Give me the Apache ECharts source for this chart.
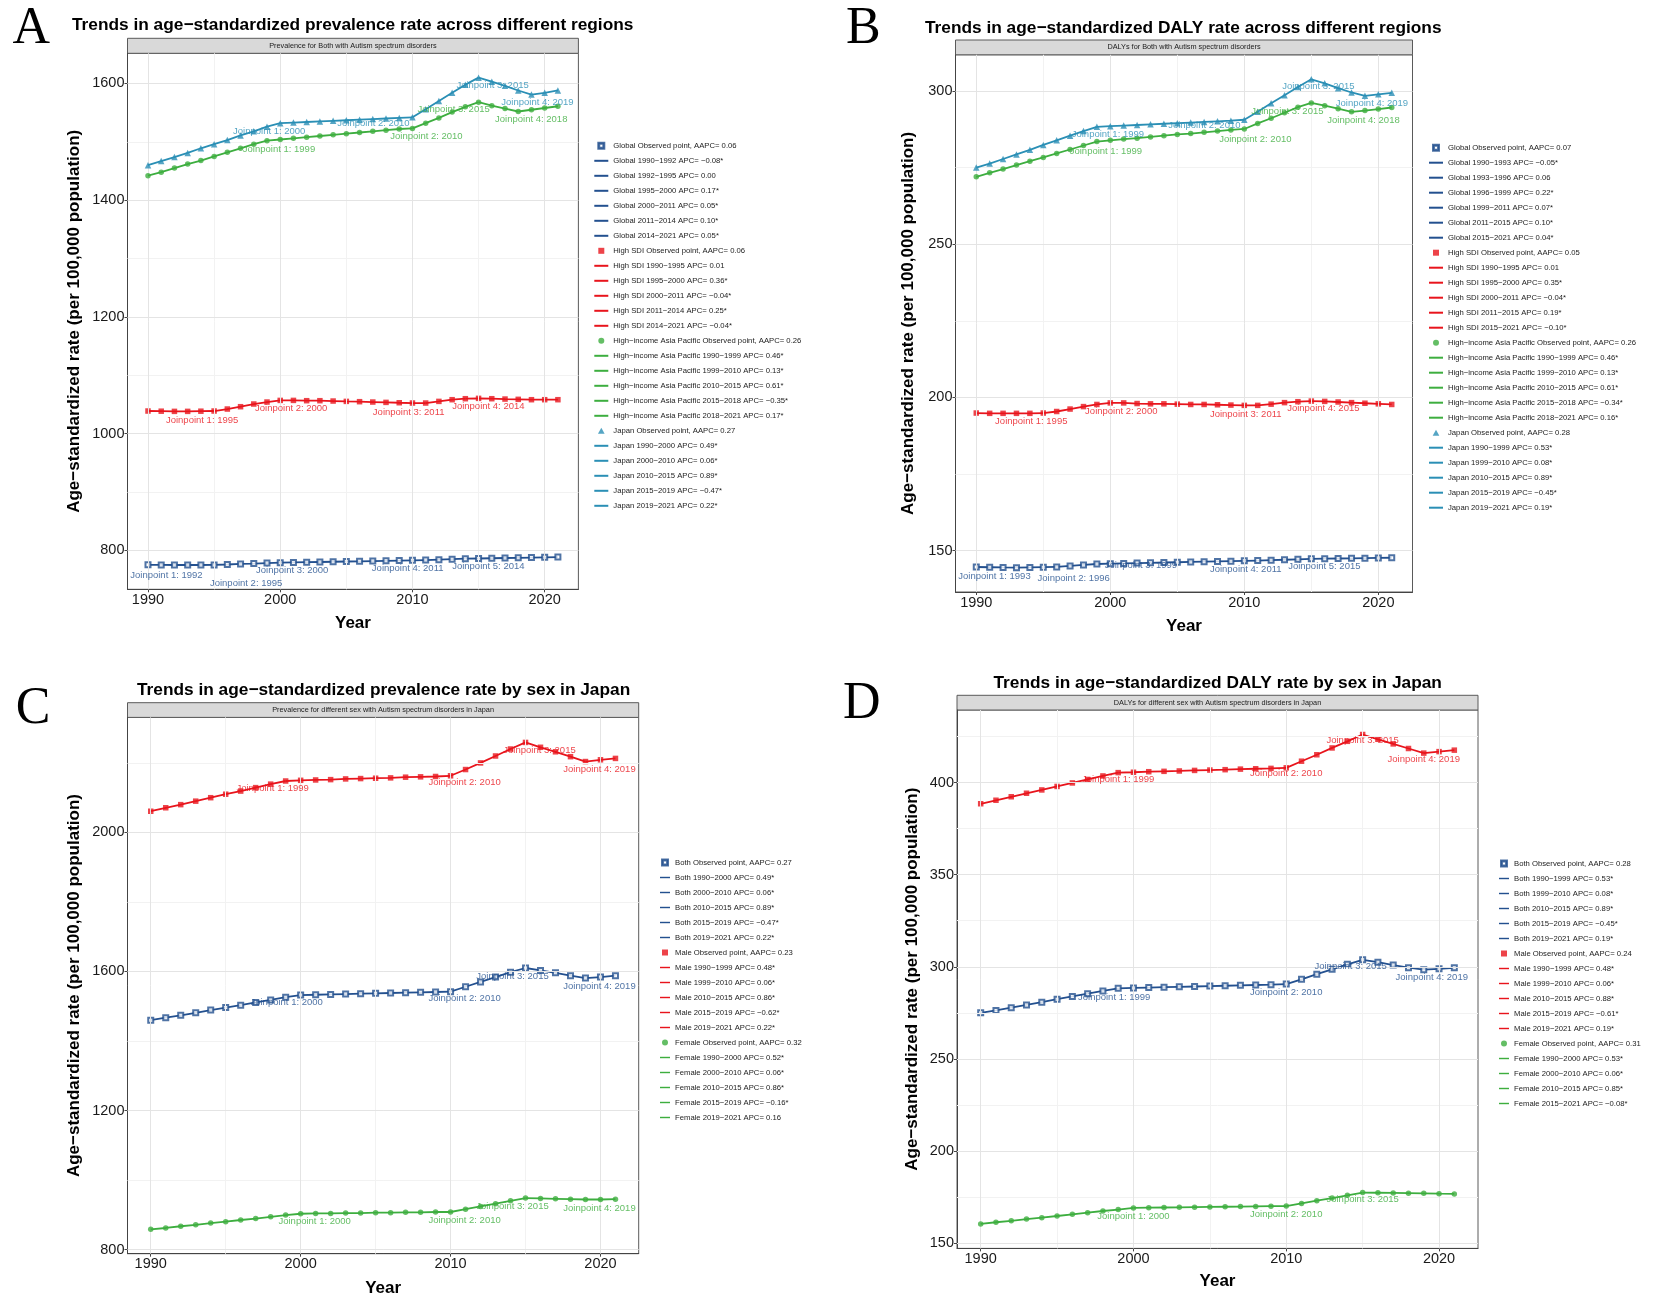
<!DOCTYPE html>
<html><head><meta charset="utf-8">
<script src="https://cdn.jsdelivr.net/npm/echarts@6/dist/echarts.min.js"></script>
<style>html,body{margin:0;padding:0;background:#fff}#c{width:1654px;height:1308px}</style>
</head><body><div id="c"></div>
<script>
// ---------------- DATA ----------------
const years = [1990,1991,1992,1993,1994,1995,1996,1997,1998,1999,2000,2001,2002,2003,2004,2005,2006,2007,2008,2009,2010,2011,2012,2013,2014,2015,2016,2017,2018,2019,2020,2021];
const xTicks = [1990,2000,2010,2020];
const xMinorTicks = [1995,2005,2015];

// Panel A: prevalence by region
const prevGlobal  = [775.5,775.3,775.1,775.1,775.1,775.2,776.0,776.9,777.6,778.4,779.1,779.5,779.9,780.3,780.7,781.1,781.5,781.9,782.3,782.7,783.1,783.5,784.3,785.1,785.9,786.3,786.7,787.1,787.5,787.9,788.3,788.7];
const prevHighSDI = [1038.9,1038.6,1038.3,1038.3,1038.6,1038.9,1042.3,1046.3,1050.9,1054.3,1057.1,1057.1,1056.6,1056.6,1056.0,1055.4,1054.9,1054.3,1053.7,1053.1,1052.6,1052.6,1055.4,1058.3,1060.0,1060.6,1060.0,1059.4,1058.9,1058.3,1058.3,1058.3];
const prevHIAP    = [1442,1448,1455,1462,1468,1475,1482,1489,1496,1502,1504,1506,1508,1510,1512,1514,1516,1518,1520,1522,1523,1532,1541,1551,1560,1568,1562,1557,1552,1555,1558,1561];
const prevJapan   = [1460,1467,1474,1481,1489,1496,1503,1511,1518,1526,1532,1533,1534,1535,1536,1537,1538,1539,1540,1541,1542,1556,1570,1584,1598,1610,1603,1596,1588,1581,1584,1588];
const yTicksA = [800,1000,1200,1400,1600];
const yMinorA = [900,1100,1300,1500];

// Panel B: DALY by region
const dalyGlobal  = [144.65,144.58,144.51,144.45,144.52,144.60,144.68,145.00,145.32,145.64,145.74,145.84,145.94,146.03,146.12,146.21,146.30,146.39,146.48,146.57,146.66,146.75,146.89,147.03,147.17,147.31,147.37,147.43,147.49,147.55,147.61,147.67];
const dalyHighSDI = [194.9,194.8,194.8,194.8,194.8,194.9,195.4,196.2,197.0,197.7,198.2,198.2,198.0,197.9,197.9,197.8,197.7,197.7,197.6,197.5,197.4,197.4,197.8,198.3,198.6,198.8,198.7,198.5,198.3,198.1,197.9,197.7];
const dalyHIAP    = [272.0,273.3,274.5,275.8,277.1,278.3,279.6,280.9,282.2,283.5,283.9,284.3,284.6,285.0,285.4,285.8,286.1,286.5,286.9,287.3,287.6,289.4,291.1,292.9,294.7,296.1,295.2,294.2,293.2,293.6,294.1,294.6];
const dalyJapan   = [275.0,276.3,277.8,279.3,280.8,282.4,283.9,285.4,286.9,288.3,288.5,288.7,288.9,289.1,289.3,289.5,289.7,289.9,290.1,290.3,290.6,293.2,296.0,298.6,301.3,303.8,302.5,300.9,299.5,298.4,298.9,299.4];
const yTicksB = [150,200,250,300];
const yMinorB = [175,225,275];

// Panel C: prevalence by sex in Japan
const sexPrevBoth   = [1460,1467,1474,1481,1489,1496,1503,1511,1518,1526,1532,1533,1534,1535,1536,1537,1538,1539,1540,1541,1542,1556,1570,1584,1598,1610,1603,1596,1588,1581,1584,1588];
const sexPrevMale   = [2061,2071,2080,2090,2100,2110,2119,2129,2139,2148,2150,2151,2152,2154,2155,2156,2157,2159,2160,2161,2163,2181,2200,2220,2240,2259,2245,2232,2218,2204,2209,2213];
const sexPrevFemale = [858,862,867,871,876,880,885,889,894,899,903,904,904,905,905,906,906,907,907,908,908,916,924,932,940,948,947,946,945,944,944,945];
const yTicksC = [800,1200,1600,2000];
const yMinorC = [1000,1400,1800,2200];

// Panel D: DALY by sex in Japan
const sexDalyBoth   = [275.0,276.3,277.8,279.3,280.8,282.4,283.9,285.4,286.9,288.3,288.5,288.7,288.9,289.1,289.3,289.5,289.7,289.9,290.1,290.3,290.6,293.2,296.0,298.6,301.3,303.8,302.5,300.9,299.5,298.4,298.9,299.4];
const sexDalyMale   = [388.5,390.4,392.3,394.2,396.0,397.9,399.8,401.7,403.6,405.4,405.6,405.9,406.1,406.3,406.6,406.8,407.0,407.3,407.5,407.7,408.0,411.6,415.1,418.8,422.4,426.1,423.5,421.0,418.5,416.0,416.8,417.6];
const sexDalyFemale = [160.4,161.3,162.1,163.0,163.8,164.7,165.6,166.5,167.4,168.2,169.1,169.2,169.3,169.4,169.5,169.6,169.7,169.8,169.9,170.0,170.1,171.5,173.0,174.4,175.9,177.4,177.3,177.2,177.1,177.0,176.8,176.7];
const yTicksD = [150,200,250,300,350,400];
const yMinorD = [175,225,275,325,375,425];

// Joinpoint breaks, APC and AAPC texts
const jpA_Global = [1990,1992,1995,2000,2011,2014,2021];  const apcA_Global = ['−0.08*','0.00','0.17*','0.05*','0.10*','0.05*'];
const jpA_SDI    = [1990,1995,2000,2011,2014,2021];       const apcA_SDI    = ['0.01','0.36*','−0.04*','0.25*','−0.04*'];
const jpA_HIAP   = [1990,1999,2010,2015,2018,2021];       const apcA_HIAP   = ['0.46*','0.13*','0.61*','−0.35*','0.17*'];
const jpA_Japan  = [1990,2000,2010,2015,2019,2021];       const apcA_Japan  = ['0.49*','0.06*','0.89*','−0.47*','0.22*'];
const aapcA = ['0.06','0.06','0.26','0.27'];

const jpB_Global = [1990,1993,1996,1999,2011,2015,2021];  const apcB_Global = ['−0.05*','0.06','0.22*','0.07*','0.10*','0.04*'];
const jpB_SDI    = [1990,1995,2000,2011,2015,2021];       const apcB_SDI    = ['0.01','0.35*','−0.04*','0.19*','−0.10*'];
const jpB_HIAP   = [1990,1999,2010,2015,2018,2021];       const apcB_HIAP   = ['0.46*','0.13*','0.61*','−0.34*','0.16*'];
const jpB_Japan  = [1990,1999,2010,2015,2019,2021];       const apcB_Japan  = ['0.53*','0.08*','0.89*','−0.45*','0.19*'];
const aapcB = ['0.07','0.05','0.26','0.28'];

const jpC_Both   = [1990,2000,2010,2015,2019,2021];       const apcC_Both   = ['0.49*','0.06*','0.89*','−0.47*','0.22*'];
const jpC_Male   = [1990,1999,2010,2015,2019,2021];       const apcC_Male   = ['0.48*','0.06*','0.86*','−0.62*','0.22*'];
const jpC_Female = [1990,2000,2010,2015,2019,2021];       const apcC_Female = ['0.52*','0.06*','0.86*','−0.16*','0.16'];
const aapcC = ['0.27','0.23','0.32'];

const jpD_Both   = [1990,1999,2010,2015,2019,2021];       const apcD_Both   = ['0.53*','0.08*','0.89*','−0.45*','0.19*'];
const jpD_Male   = [1990,1999,2010,2015,2019,2021];       const apcD_Male   = ['0.48*','0.06*','0.88*','−0.61*','0.19*'];
const jpD_Female = [1990,2000,2010,2015,2021];            const apcD_Female = ['0.53*','0.06*','0.85*','−0.08*'];
const aapcD = ['0.28','0.24','0.31'];

// ---------------- STYLE / LAYOUT ----------------
const FONT = '"Liberation Sans", Arial, Helvetica, sans-serif';
const COL = {navy:'#23508F', red:'#E8141C', green:'#3DAE3F', teal:'#2A8FB5'};
const YNAME = 'Age−standardized rate (per 100,000 population)';
const ICON = {
  line:'path://M0,0H14V2H0Z',
  emptyRect:'path://M0,0H10V10H0Z M1.6,1.6V8.4H8.4V1.6Z',
  rect:'path://M0,0H10V10H0Z',
  circle:'path://M0,5A5,5 0 1,0 10,5A5,5 0 1,0 0,5Z',
  triangle:'path://M5,0L10,9L0,9Z'
};

const panels = [
  {letter:'A', letterPos:[12.6,29.5], title:'Trends in age−standardized prevalence rate across different regions', titlePos:[72,25.5],
   strip:'Prevalence for Both with Autism spectrum disorders', stripTop:38.3,
   grid:{l:127.5,t:53.3,r:578.4,b:589.3}, yMin:733.5, yMax:1651.7, yTicks:yTicksA, yMinor:yMinorA, yNameGap:45, xNameGap:26,
   legend:{left:594.3, top:141.3, keyW:14},
   groups:[
    {label:'Global', values:prevGlobal, breaks:jpA_Global, apc:apcA_Global, aapc:aapcA[0], color:COL.navy, symbol:'emptyRect', offs:[[-8,10],[32,18],[12,8],[-18,8],[23,8]]},
    {label:'High SDI', values:prevHighSDI, breaks:jpA_SDI, apc:apcA_SDI, aapc:aapcA[1], color:COL.red, symbol:'rect', offs:[[-12,9],[11,8],[-17,9],[23,8]]},
    {label:'High−income Asia Pacific', values:prevHIAP, breaks:jpA_HIAP, apc:apcA_HIAP, aapc:aapcA[2], color:COL.green, symbol:'circle', offs:[[12,9],[14,8],[-25,7],[13,8]]},
    {label:'Japan', values:prevJapan, breaks:jpA_Japan, apc:apcA_Japan, aapc:aapcA[3], color:COL.teal, symbol:'triangle', offs:[[-11,8],[-39,6],[14,8],[6,8]]}
   ]},
  {letter:'B', letterPos:[846,29.5], title:'Trends in age−standardized DALY rate across different regions', titlePos:[925,28.3],
   strip:'DALYs for Both with Autism spectrum disorders', stripTop:40,
   grid:{l:955.5,t:54.8,r:1412.5,b:592}, yMin:136.5, yMax:311.8, yTicks:yTicksB, yMinor:yMinorB, yNameGap:39, xNameGap:26,
   legend:{left:1429, top:143.2, keyW:14},
   groups:[
    {label:'Global', values:dalyGlobal, breaks:jpB_Global, apc:apcB_Global, aapc:aapcB[0], color:COL.navy, symbol:'emptyRect', offs:[[-22,9],[17,11],[44,1],[-12,9],[13,8]]},
    {label:'High SDI', values:dalyHighSDI, breaks:jpB_SDI, apc:apcB_SDI, aapc:aapcB[1], color:COL.red, symbol:'rect', offs:[[-12,8],[11,8],[-12,9],[12,7]]},
    {label:'High−income Asia Pacific', values:dalyHIAP, breaks:jpB_HIAP, apc:apcB_HIAP, aapc:aapcB[2], color:COL.green, symbol:'circle', offs:[[9,10],[11,10],[-24,8],[12,9]]},
    {label:'Japan', values:dalyJapan, breaks:jpB_Japan, apc:apcB_Japan, aapc:aapcB[3], color:COL.teal, symbol:'triangle', offs:[[11,8],[-40,6],[7,7],[7,8]]}
   ]},
  {letter:'C', letterPos:[15.8,709], title:'Trends in age−standardized prevalence rate by sex in Japan', titlePos:[137,690],
   strip:'Prevalence for different sex with Autism spectrum disorders in Japan', stripTop:702.7,
   grid:{l:127.5,t:717.4,r:638.7,b:1253.7}, yMin:788, yMax:2331, yTicks:yTicksC, yMinor:yMinorC, yNameGap:45, xNameGap:26,
   legend:{left:660, top:858, keyW:10},
   groups:[
    {label:'Both', values:sexPrevBoth, breaks:jpC_Both, apc:apcC_Both, aapc:aapcC[0], color:COL.navy, symbol:'emptyRect', offs:[[-14,7],[14,7],[-13,8],[14,8]]},
    {label:'Male', values:sexPrevMale, breaks:jpC_Male, apc:apcC_Male, aapc:aapcC[1], color:COL.red, symbol:'rect', offs:[[-13,7],[14,7],[14,8],[14,8]]},
    {label:'Female', values:sexPrevFemale, breaks:jpC_Female, apc:apcC_Female, aapc:aapcC[2], color:COL.green, symbol:'circle', offs:[[14,8],[14,8],[-13,8],[14,9]]}
   ]},
  {letter:'D', letterPos:[843,704], title:'Trends in age−standardized DALY rate by sex in Japan', titlePos:[993.5,683],
   strip:'DALYs for different sex with Autism spectrum disorders in Japan', stripTop:695.3,
   grid:{l:957,t:710,r:1478,b:1248.4}, yMin:147.1, yMax:439.4, yTicks:yTicksD, yMinor:yMinorD, yNameGap:36, xNameGap:24,
   legend:{left:1499, top:859, keyW:10},
   groups:[
    {label:'Both', values:sexDalyBoth, breaks:jpD_Both, apc:apcD_Both, aapc:aapcD[0], color:COL.navy, symbol:'emptyRect', offs:[[-4,9],[0,8],[-12,7],[8,8]]},
    {label:'Male', values:sexDalyMale, breaks:jpD_Male, apc:apcD_Male, aapc:aapcD[1], color:COL.red, symbol:'rect', offs:[[0,7],[0,6],[0,6],[0,6]]},
    {label:'Female', values:sexDalyFemale, breaks:jpD_Female, apc:apcD_Female, aapc:aapcD[2], color:COL.green, symbol:'circle', offs:[[0,8],[0,8],[0,7]]}
   ]}
];

// ---------------- BUILD ----------------
const option = {animation:false, backgroundColor:'#fff', grid:[], xAxis:[], yAxis:[], series:[], legend:[], graphic:[]};
const majorLine = {color:'#E4E4E4', width:1, type:'solid'};
const minorLine = {color:'#F2F2F2', width:1, type:'solid'};
const fmt = v => String(v);

panels.forEach((p, i) => {
  const g = p.grid;
  option.grid.push({left:g.l, top:g.t, width:g.r-g.l, height:g.b-g.t, show:true, borderColor:'#5a5a5a', borderWidth:1, backgroundColor:'#fff'});
  option.xAxis.push({
    gridIndex:i, type:'value', min:1988.45, max:2022.55,
    axisLine:{show:true, onZero:false, lineStyle:{color:'#444', width:1}},
    axisTick:{show:true, length:3, lineStyle:{color:'#444'}, customValues:xTicks},
    axisLabel:{customValues:xTicks, formatter:fmt, fontSize:14.5, color:'#1a1a1a', margin:3, fontFamily:FONT},
    splitLine:{show:false},
    name:'Year', nameLocation:'middle', nameGap:p.xNameGap,
    nameTextStyle:{fontSize:17, fontWeight:'bold', color:'#000', fontFamily:FONT}
  });
  option.yAxis.push({
    gridIndex:i, type:'value', min:p.yMin, max:p.yMax,
    axisLine:{show:true, onZero:false, lineStyle:{color:'#444', width:1}},
    axisTick:{show:true, length:3, lineStyle:{color:'#444'}, customValues:p.yTicks},
    axisLabel:{customValues:p.yTicks, formatter:fmt, fontSize:14.5, color:'#1a1a1a', margin:3, fontFamily:FONT},
    splitLine:{show:false},
    name:YNAME, nameLocation:'middle', nameRotate:90, nameGap:p.yNameGap,
    nameTextStyle:{fontSize:17, fontWeight:'bold', color:'#000', fontFamily:FONT}
  });
  // gridlines host series
  const ml = [];
  xMinorTicks.forEach(v => ml.push({xAxis:v, lineStyle:minorLine}));
  p.yMinor.forEach(v => ml.push({yAxis:v, lineStyle:minorLine}));
  xTicks.forEach(v => ml.push({xAxis:v, lineStyle:majorLine}));
  p.yTicks.forEach(v => ml.push({yAxis:v, lineStyle:majorLine}));
  option.series.push({
    type:'line', name:'_grid'+i, xAxisIndex:i, yAxisIndex:i, data:[[years[0], p.groups[0].values[0]]],
    symbol:'none', lineStyle:{opacity:0}, silent:true, z:1,
    markLine:{silent:true, symbol:['none','none'], label:{show:false}, emphasis:{disabled:true}, animation:false, data:ml}
  });

  const legendItems = [];
  p.groups.forEach((gr, gi) => {
    const pts = years.map((y, j) => [y, gr.values[j]]);
    const obsName = gr.label + ' Observed point, AAPC= ' + gr.aapc;
    legendItems.push({name:obsName, icon:ICON[gr.symbol]});
    for (let k = 0; k < gr.breaks.length - 1; k++) {
      const s = gr.breaks[k], e = gr.breaks[k+1];
      const nm = gr.label + ' ' + s + '−' + e + ' APC= ' + gr.apc[k];
      legendItems.push({name:nm, icon:ICON.line});
      option.series.push({
        type:'line', name:nm, xAxisIndex:i, yAxisIndex:i, symbol:'none', z:3+gi,
        lineStyle:{color:gr.color, width:1.8}, itemStyle:{color:gr.color},
        data: pts.filter(d => d[0] >= s && d[0] <= e)
      });
    }
    const empty = gr.symbol === 'emptyRect';
    option.series.push({
      type:'scatter', name:obsName, xAxisIndex:i, yAxisIndex:i, symbol:gr.symbol, symbolSize: gr.symbol==='triangle' ? 6.5 : (empty ? 5 : 5.5), z:3+gi,
      itemStyle: empty ? {color:gr.color, borderColor:gr.color, borderWidth:1} : {color:gr.color},
      data: pts
    });
    // joinpoint labels
    const jps = gr.breaks.slice(1, -1);
    option.series.push({
      type:'scatter', name:'_lbl'+i+'_'+gi, xAxisIndex:i, yAxisIndex:i, symbolSize:1, z:10, silent:true,
      itemStyle:{color:'rgba(0,0,0,0)'},
      data: jps.map((yr, k) => ({
        name:'Joinpoint ' + (k+1) + ': ' + yr,
        value:[yr, gr.values[years.indexOf(yr)]],
        label:{offset:gr.offs[k]}
      })),
      label:{show:true, position:'inside', formatter:'{b}', color:gr.color, fontSize:9.5, fontFamily:FONT}
    });
  });

  option.legend.push({
    orient:'vertical', left:p.legend.left, top:p.legend.top, padding:0, itemGap:6,
    itemWidth:p.legend.keyW, itemHeight:6, selectedMode:false, symbolKeepAspect:true,
    textStyle:{fontSize:7.7, color:'#222', fontFamily:FONT, lineHeight:9},
    data:legendItems
  });

  // graphics: letter, title, strip
  option.graphic.push({type:'text', x:p.letterPos[0], y:p.letterPos[1],
    style:{text:p.letter, font:'52px "Liberation Serif", "Times New Roman", serif', fill:'#000', textVerticalAlign:'middle', textAlign:'left'}});
  option.graphic.push({type:'text', x:p.titlePos[0], y:p.titlePos[1],
    style:{text:p.title, font:'bold 17.3px ' + FONT, fill:'#000', textVerticalAlign:'middle', textAlign:'left'}});
  option.graphic.push({type:'rect', shape:{x:g.l, y:p.stripTop, width:g.r-g.l, height:g.t-p.stripTop},
    style:{fill:'#D9D9D9', stroke:'#5a5a5a', lineWidth:1}});
  option.graphic.push({type:'text', x:(g.l+g.r)/2, y:(p.stripTop+g.t)/2,
    style:{text:p.strip, font:'7.3px ' + FONT, fill:'#1a1a1a', textVerticalAlign:'middle', textAlign:'center'}});
});

const chart = echarts.init(document.getElementById('c'), null, {renderer:'canvas'});
chart.setOption(option);
</script>
</body></html>
